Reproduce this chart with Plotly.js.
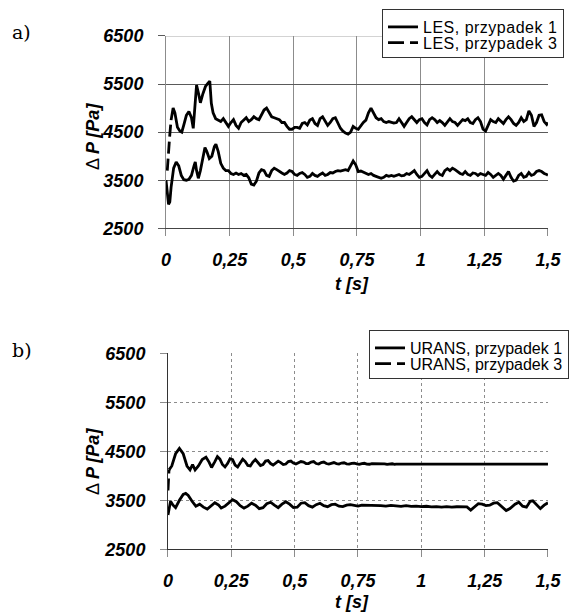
<!DOCTYPE html>
<html>
<head>
<meta charset="utf-8">
<script src="https://cdn.plot.ly/plotly-3.0.1.min.js"></script>
<style>
html,body{margin:0;padding:0;background:#fff;}
.legendtext{letter-spacing:0.5px;}
</style>
</head>
<body>
<div id="chart" style="width:572px;height:612px;"></div>
<script>
// ---- tick labels ----
const xTickVals = [0, 0.25, 0.5, 0.75, 1, 1.25, 1.5];
const xTickText = ["0", "0,25", "0,5", "0,75", "1", "1,25", "1,5"];
const yTickVals = [2500, 3500, 4500, 5500, 6500];
const yTickText = ["2500", "3500", "4500", "5500", "6500"];

// ---- a) LES, przypadek 1 ----
const lesT1 = [0.000,0.005,0.010,0.015,0.020,0.030,0.040,0.050,0.060,0.070,0.080,0.090,0.100,0.110,0.115,0.120,0.127,0.135,0.145,0.153,0.160,0.170,0.180,0.190,0.196,0.205,0.215,0.225,0.235,0.245,0.255,0.265,0.275,0.285,0.295,0.305,0.315,0.325,0.335,0.345,0.355,0.365,0.375,0.385,0.395,0.405,0.415,0.425,0.435,0.445,0.455,0.465,0.475,0.485,0.495,0.505,0.515,0.525,0.535,0.545,0.555,0.565,0.575,0.585,0.595,0.605,0.615,0.625,0.635,0.645,0.655,0.665,0.675,0.685,0.695,0.705,0.715,0.725,0.735,0.745,0.755,0.765,0.775,0.785,0.795,0.805,0.815,0.825,0.835,0.845,0.855,0.865,0.875,0.885,0.895,0.905,0.915,0.925,0.935,0.945,0.955,0.965,0.975,0.985,0.995,1.005,1.015,1.025,1.035,1.045,1.055,1.065,1.075,1.085,1.095,1.105,1.115,1.125,1.135,1.145,1.155,1.165,1.175,1.185,1.195,1.205,1.215,1.225,1.235,1.245,1.255,1.265,1.275,1.285,1.295,1.305,1.315,1.325,1.335,1.345,1.355,1.365,1.375,1.385,1.395,1.405,1.415,1.425,1.435,1.445,1.455,1.465,1.475,1.485,1.495,1.500];
const lesP1 = [3500,3250,3000,3050,3350,3750,3880,3800,3600,3510,3500,3520,3600,3800,3880,3700,3540,3700,3950,4180,4100,3950,4000,4200,4250,4100,3850,3750,3700,3700,3640,3620,3650,3620,3640,3600,3620,3550,3420,3400,3480,3650,3720,3700,3600,3580,3700,3750,3720,3680,3650,3620,3650,3700,3680,3620,3600,3640,3660,3620,3560,3580,3640,3600,3580,3620,3650,3600,3620,3660,3650,3680,3700,3690,3700,3720,3700,3800,3900,3820,3680,3690,3670,3640,3620,3640,3600,3580,3560,3540,3560,3600,3580,3600,3580,3600,3620,3590,3600,3640,3620,3660,3700,3620,3560,3580,3650,3700,3600,3560,3620,3680,3620,3600,3700,3740,3700,3750,3720,3680,3640,3620,3680,3620,3600,3650,3640,3600,3640,3620,3600,3660,3620,3560,3600,3640,3600,3520,3600,3680,3560,3480,3500,3600,3640,3560,3580,3660,3600,3620,3680,3700,3680,3640,3620,3600];

// ---- a) LES, przypadek 3 ----
const lesT3 = [0.005,0.008,0.012,0.015,0.020,0.028,0.035,0.045,0.055,0.062,0.070,0.080,0.090,0.100,0.107,0.112,0.120,0.128,0.135,0.145,0.155,0.165,0.172,0.178,0.185,0.195,0.205,0.215,0.225,0.235,0.245,0.255,0.265,0.275,0.285,0.295,0.305,0.315,0.325,0.335,0.345,0.355,0.365,0.375,0.385,0.395,0.405,0.415,0.425,0.435,0.445,0.455,0.465,0.475,0.485,0.495,0.505,0.515,0.525,0.535,0.545,0.555,0.565,0.575,0.585,0.595,0.605,0.615,0.625,0.635,0.645,0.655,0.665,0.675,0.685,0.695,0.705,0.715,0.725,0.735,0.745,0.755,0.765,0.775,0.785,0.795,0.805,0.815,0.825,0.835,0.845,0.855,0.865,0.875,0.885,0.895,0.905,0.915,0.925,0.935,0.945,0.955,0.965,0.975,0.985,0.995,1.005,1.015,1.025,1.035,1.045,1.055,1.065,1.075,1.085,1.095,1.105,1.115,1.125,1.135,1.145,1.155,1.165,1.175,1.185,1.195,1.205,1.215,1.225,1.235,1.245,1.255,1.265,1.275,1.285,1.295,1.305,1.315,1.325,1.335,1.345,1.355,1.365,1.375,1.385,1.395,1.405,1.415,1.425,1.435,1.445,1.455,1.465,1.475,1.485,1.495,1.500];
const lesP3 = [3700,4000,4300,4450,4750,5000,4900,4600,4520,4500,4650,4850,4930,4800,4580,4900,5480,5300,5110,5300,5450,5520,5560,5100,4900,4780,4750,4720,4780,4700,4620,4700,4760,4640,4580,4700,4760,4800,4720,4760,4820,4780,4760,4850,4960,5000,4900,4820,4800,4780,4760,4700,4700,4620,4560,4560,4600,4600,4580,4680,4700,4650,4750,4780,4680,4640,4780,4820,4720,4640,4700,4780,4800,4700,4580,4520,4480,4460,4500,4620,4580,4560,4640,4700,4750,4900,5000,4900,4800,4760,4780,4720,4700,4720,4700,4690,4700,4780,4700,4620,4700,4780,4820,4760,4700,4760,4780,4700,4650,4760,4800,4760,4700,4740,4700,4640,4720,4780,4720,4700,4640,4700,4760,4740,4780,4700,4680,4760,4800,4720,4560,4520,4650,4760,4720,4700,4780,4720,4680,4760,4820,4760,4680,4640,4700,4800,4720,4760,4940,4850,4620,4700,4850,4860,4720,4660,4700];

// ---- b) URANS, przypadek 1 ----
const uransT1 = [0.000,0.005,0.010,0.020,0.030,0.045,0.060,0.070,0.080,0.095,0.110,0.125,0.140,0.155,0.170,0.185,0.200,0.210,0.225,0.240,0.255,0.270,0.285,0.300,0.315,0.330,0.345,0.360,0.375,0.390,0.405,0.420,0.435,0.450,0.465,0.480,0.495,0.510,0.525,0.540,0.555,0.570,0.585,0.600,0.615,0.630,0.645,0.660,0.675,0.690,0.705,0.720,0.735,0.750,0.765,0.780,0.800,0.820,0.840,0.860,0.880,0.900,0.920,0.940,0.960,0.980,1.000,1.020,1.040,1.060,1.080,1.100,1.120,1.140,1.160,1.180,1.195,1.210,1.225,1.240,1.255,1.270,1.285,1.300,1.315,1.335,1.350,1.370,1.385,1.400,1.415,1.430,1.440,1.455,1.470,1.485,1.500];
const uransP1 = [3200,3380,3480,3400,3350,3500,3620,3640,3600,3480,3380,3420,3360,3320,3380,3450,3400,3340,3380,3450,3510,3470,3390,3340,3380,3440,3400,3330,3350,3430,3460,3400,3350,3420,3470,3420,3350,3360,3440,3450,3390,3360,3410,3440,3390,3370,3410,3420,3380,3370,3400,3410,3390,3380,3400,3400,3385,3395,3390,3380,3395,3385,3375,3390,3375,3380,3370,3378,3365,3372,3362,3370,3360,3368,3360,3365,3300,3360,3430,3420,3390,3400,3440,3450,3380,3290,3330,3420,3460,3380,3360,3480,3490,3400,3330,3400,3450];

// ---- b) URANS, przypadek 3 ----
const uransT3 = [0.000,0.002,0.004,0.015,0.030,0.045,0.060,0.075,0.087,0.097,0.107,0.120,0.135,0.150,0.162,0.172,0.185,0.195,0.205,0.215,0.225,0.235,0.245,0.255,0.265,0.275,0.285,0.295,0.305,0.315,0.325,0.335,0.345,0.355,0.365,0.375,0.385,0.395,0.405,0.415,0.425,0.435,0.445,0.455,0.465,0.475,0.485,0.495,0.505,0.515,0.525,0.535,0.545,0.555,0.565,0.575,0.585,0.595,0.605,0.615,0.625,0.635,0.645,0.655,0.665,0.675,0.685,0.695,0.705,0.715,0.725,0.735,0.745,0.755,0.765,0.775,0.785,0.795,0.805,0.815,0.825,0.835,0.845,0.855,0.865,0.875,0.885,0.895,0.900,1.000,1.250,1.500];
const uransP3 = [3700,4000,4120,4200,4450,4560,4450,4200,4120,4230,4120,4200,4330,4380,4280,4170,4290,4390,4340,4230,4180,4250,4350,4330,4220,4180,4260,4340,4290,4210,4200,4280,4330,4270,4210,4230,4300,4310,4250,4220,4260,4300,4270,4230,4240,4290,4300,4260,4240,4260,4290,4280,4250,4250,4280,4290,4250,4240,4270,4280,4250,4240,4260,4270,4250,4240,4260,4265,4245,4240,4255,4260,4245,4235,4250,4255,4240,4235,4250,4250,4235,4235,4248,4245,4232,4240,4245,4235,4238,4238,4238,4238];

const seriesNames = ["LES, przypadek 1", "LES, przypadek 3", "URANS, przypadek 1", "URANS, przypadek 3"];

const FONT = "Liberation Sans, Arial, sans-serif";
const LW = 2.8;
const solidLine = {color: "#000", width: LW};
const dashedLine = {color: "#000", width: LW, dash: "16px,6px"};
const headDash = {color: "#000", width: LW, dash: "12px,5px"};
const HEAD = 5; // start points of case-3 series drawn with visible dash gaps

const traces = [
  {x: lesT1, y: lesP1, mode: "lines", line: solidLine, name: seriesNames[0], xaxis: "x", yaxis: "y", legend: "legend"},
  {x: lesT3.slice(0, HEAD), y: lesP3.slice(0, HEAD), mode: "lines", line: headDash, name: seriesNames[1], xaxis: "x", yaxis: "y", showlegend: false},
  {x: lesT3.slice(HEAD - 1), y: lesP3.slice(HEAD - 1), mode: "lines", line: solidLine, name: seriesNames[1], xaxis: "x", yaxis: "y", showlegend: false},
  {x: [null], y: [null], mode: "lines", line: dashedLine, name: seriesNames[1], xaxis: "x", yaxis: "y", legend: "legend"},
  {x: uransT1, y: uransP1, mode: "lines", line: solidLine, name: seriesNames[2], xaxis: "x2", yaxis: "y2", legend: "legend2"},
  {x: uransT3.slice(0, 3), y: uransP3.slice(0, 3), mode: "lines", line: headDash, name: seriesNames[3], xaxis: "x2", yaxis: "y2", showlegend: false},
  {x: uransT3.slice(2), y: uransP3.slice(2), mode: "lines", line: solidLine, name: seriesNames[3], xaxis: "x2", yaxis: "y2", showlegend: false},
  {x: [null], y: [null], mode: "lines", line: dashedLine, name: seriesNames[3], xaxis: "x2", yaxis: "y2", legend: "legend2"}
];

const tickFont = {family: FONT, size: 18, weight: "bold", style: "italic", color: "#000"};

function xAxis(domain, grid, dash, lineColor, anchor) {
  return {
    domain: domain, range: [0, 1.5], tickvals: xTickVals, ticktext: xTickText, anchor: anchor,
    showgrid: true, gridcolor: grid, griddash: dash, gridwidth: 1,
    zeroline: false, showline: true, linecolor: lineColor, linewidth: 1,
    ticks: "outside", ticklen: 7, tickcolor: grid, tickwidth: 1,
    tickfont: tickFont, ticklabelstandoff: 8, fixedrange: true
  };
}
function yAxis(domain, grid, dash, lineColor, anchor) {
  return {
    domain: domain, range: [2500, 6500], tickvals: yTickVals, ticktext: yTickText, anchor: anchor,
    showgrid: true, gridcolor: grid, griddash: dash, gridwidth: 1,
    zeroline: false, showline: true, linecolor: lineColor, linewidth: 1,
    ticks: "outside", ticklen: 7, tickcolor: grid, tickwidth: 1,
    tickfont: tickFont, ticklabelstandoff: 11, fixedrange: true
  };
}

const legendFont = {family: FONT, size: 16, color: "#000"};
const titleFont = {family: FONT, size: 18, color: "#000"};
const serifFont = {family: "DejaVu Serif, Liberation Serif, serif", size: 19, color: "#000"};

const layout = {
  width: 572, height: 612,
  margin: {l: 0, r: 0, t: 0, b: 0},
  paper_bgcolor: "#fff", plot_bgcolor: "#fff",
  showlegend: true,
  xaxis: xAxis([0.2902, 0.9580], "#8c8c8c", "solid", "#444", "y"),
  yaxis: yAxis([0.6270, 0.9412], "#5a5a5a", "solid", "#8c8c8c", "x"),
  xaxis2: xAxis([0.2937, 0.9580], "#8c8c8c", "3px,3px", "#333", "y2"),
  yaxis2: yAxis([0.1025, 0.4227], "#8c8c8c", "3px,3px", "#333", "x2"),
  legend: {x: 382/572, y: 1 - 9/612, xanchor: "left", yanchor: "top",
           bgcolor: "#fff", bordercolor: "#333", borderwidth: 1, font: legendFont,
           tracegroupgap: 0, itemwidth: 30, traceorder: "normal"},
  legend2: {x: 369/572, y: 1 - 330/612, xanchor: "left", yanchor: "top",
           bgcolor: "#fff", bordercolor: "#333", borderwidth: 1, font: legendFont,
           tracegroupgap: 0, itemwidth: 30, traceorder: "normal"},
  shapes: [
    {type: "line", xref: "x", yref: "y", x0: 0, x1: 1.5, y0: 6500, y1: 6500, layer: "below",
     line: {color: "#c4c4c4", width: 1.5}}
  ],
  annotations: [
    {text: "a)", x: 10/572, y: 1 - 32/612, xref: "paper", yref: "paper", xanchor: "left", yanchor: "middle",
     showarrow: false, font: serifFont},
    {text: "b)", x: 10/572, y: 1 - 350/612, xref: "paper", yref: "paper", xanchor: "left", yanchor: "middle",
     showarrow: false, font: serifFont},
    {text: "Δ <b><i>P [Pa]</i></b>", x: 93/572, y: 1 - 137/612, xref: "paper", yref: "paper", xanchor: "center", yanchor: "middle",
     textangle: -90, showarrow: false, font: titleFont},
    {text: "Δ <b><i>P [Pa]</i></b>", x: 93/572, y: 1 - 462/612, xref: "paper", yref: "paper", xanchor: "center", yanchor: "middle",
     textangle: -90, showarrow: false, font: titleFont},
    {text: "<b><i>t [s]</i></b>", x: 352/572, y: 1 - 284/612, xref: "paper", yref: "paper", xanchor: "center", yanchor: "middle",
     showarrow: false, font: titleFont},
    {text: "<b><i>t [s]</i></b>", x: 352/572, y: 1 - 602/612, xref: "paper", yref: "paper", xanchor: "center", yanchor: "middle",
     showarrow: false, font: titleFont}
  ]
};

// tighten legend row spacing to match the reference (rows ~21px apart)
function tightenLegends(gd) {
  const SHIFT = 8;
  ["legend", "legend2"].forEach(function (id) {
    const lg = gd.querySelector("g." + id);
    if (!lg) return;
    const items = lg.querySelectorAll("g.traces");
    items.forEach(function (it, i) {
      const m = /translate\(\s*([-\d.]+)[ ,]+([-\d.]+)\s*\)/.exec(it.getAttribute("transform") || "");
      if (m) it.setAttribute("transform", "translate(" + m[1] + "," + (parseFloat(m[2]) - SHIFT * i) + ")");
    });
    const bg = lg.querySelector("rect.bg");
    if (bg) bg.setAttribute("height", parseFloat(bg.getAttribute("height")) - SHIFT * (items.length - 1) - 3);
  });
}

Plotly.newPlot("chart", traces, layout, {displayModeBar: false, staticPlot: true}).then(tightenLegends);
</script>
</body>
</html>
